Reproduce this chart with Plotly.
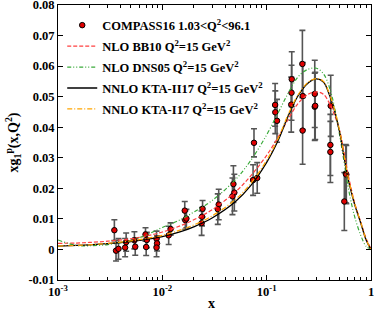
import plotly.graph_objects as go

# ---- data ----
data_x = [0.00347, 0.0036, 0.0038, 0.0044, 0.0045, 0.0054, 0.0055, 0.0069, 0.0070, 0.0071,
          0.0088, 0.0089, 0.0088, 0.0115, 0.0120, 0.0164, 0.0166, 0.0170,
          0.0243, 0.0240, 0.0238, 0.0347, 0.0340, 0.048, 0.049, 0.047,
          0.0741, 0.0812, 0.0756, 0.1205, 0.121, 0.1257, 0.174, 0.173, 0.172,
          0.220, 0.222, 0.221, 0.289, 0.289, 0.292, 0.411, 0.408, 0.408,
          0.573, 0.580, 0.555]
data_y = [0.0063, -0.0004, 0.0002, 0.0006, 0.0024, 0.0030, 0.0009, 0.0049, 0.0008, 0.0031,
          0.0035, 0.0020, 0.0006, 0.0046, 0.0067, 0.0127, 0.0096, 0.0101,
          0.0133, 0.0107, 0.0086, 0.0147, 0.0132, 0.0214, 0.0186, 0.0174,
          0.0227, 0.0234, 0.0349, 0.0473, 0.0449, 0.0421, 0.0557, 0.0513, 0.0474,
          0.0607, 0.0502, 0.0389, 0.0509, 0.0467, 0.0470, 0.0470, 0.0342, 0.0319,
          0.0248, 0.0245, 0.0157]
data_err = [0.0034, 0.0034, 0.0034, 0.0030, 0.0030, 0.0028, 0.0028, 0.0022, 0.0028, 0.0025,
            0.0025, 0.0025, 0.0030, 0.0030, 0.0020, 0.0030, 0.0030, 0.0030,
            0.0027, 0.0030, 0.0040, 0.0050, 0.0050, 0.0060, 0.0060, 0.0060,
            0.0050, 0.0050, 0.0046, 0.0070, 0.0070, 0.0070, 0.0090, 0.0090, 0.0090,
            0.0110, 0.0110, 0.0110, 0.0110, 0.0110, 0.0110, 0.0100, 0.0100, 0.0100,
            0.0095, 0.0095, 0.0095]

curve_x = [0.001, 0.0015, 0.002, 0.003, 0.005, 0.007, 0.01, 0.015, 0.02, 0.03, 0.05, 0.07,
           0.1, 0.13, 0.16, 0.2, 0.25, 0.3, 0.35, 0.4, 0.45, 0.5, 0.55, 0.6, 0.65, 0.7,
           0.8, 0.9, 1.0]
bb10 = [0.0020, 0.0021, 0.0023, 0.0027, 0.0035, 0.0044, 0.0057, 0.0078, 0.0097, 0.0130,
        0.0188, 0.0240, 0.0308, 0.0370, 0.0425, 0.0478, 0.0508, 0.0516, 0.0508, 0.0478,
        0.0437, 0.0390, 0.0320, 0.0250, 0.0195, 0.0150, 0.0088, 0.0035, 0.0002]
dns05 = [0.0031, 0.0013, 0.0012, 0.0016, 0.0030, 0.0047, 0.0072, 0.0098, 0.0122, 0.0160,
         0.0228, 0.0290, 0.0375, 0.0450, 0.0510, 0.0565, 0.0590, 0.0593, 0.0575, 0.0530,
         0.0460, 0.0375, 0.0290, 0.0210, 0.0150, 0.0105, 0.0045, 0.0010, 0.0002]
kta_ii17 = [0.0011, 0.0013, 0.0015, 0.0019, 0.0026, 0.0033, 0.0042, 0.0058, 0.0074, 0.0103,
            0.0156, 0.0208, 0.0285, 0.0360, 0.0435, 0.0503, 0.0545, 0.0558, 0.0548, 0.0505,
            0.0450, 0.0385, 0.0305, 0.0235, 0.0185, 0.0145, 0.0085, 0.0030, 0.0000]
kta_i17 = [0.0011, 0.0013, 0.0015, 0.0020, 0.0028, 0.0036, 0.0046, 0.0064, 0.0080, 0.0110,
           0.0163, 0.0215, 0.0292, 0.0366, 0.0440, 0.0506, 0.0547, 0.0559, 0.0550, 0.0508,
           0.0454, 0.0389, 0.0310, 0.0240, 0.0189, 0.0148, 0.0087, 0.0031, 0.0000]

x_tickvals = [0.001, 0.01, 0.1, 1]
x_ticktext = ["10<sup>-3</sup>", "10<sup>-2</sup>", "10<sup>-1</sup>", "1"]
y_tickvals = [-0.01, 0, 0.01, 0.02, 0.03, 0.04, 0.05, 0.06, 0.07, 0.08]
y_ticktext = ["-0.01", "0", "0.01", "0.02", "0.03", "0.04", "0.05", "0.06", "0.07", "0.08"]

FONT = "Liberation Serif"

fig = go.Figure()
fig.add_trace(go.Scatter(
    x=data_x, y=data_y, mode="markers", legendgroup="g0",
    name="COMPASS16 1.03&lt;Q<sup>2</sup>&lt;96.1",
    marker=dict(color="#e00000", size=5.5, line=dict(color="black", width=1)),
    error_y=dict(type="data", array=data_err, color="#555555", thickness=1.6, width=3),
))
fig.add_trace(go.Scatter(
    x=curve_x, y=bb10, mode="lines", legendgroup="g1",
    name="NLO BB10 Q<sup>2</sup>=15 GeV<sup>2</sup>",
    line=dict(color="#ff4040", width=1.2, dash="4px,2px", shape="spline"),
))
fig.add_trace(go.Scatter(
    x=curve_x, y=dns05, mode="lines", legendgroup="g2",
    name="NLO DNS05 Q<sup>2</sup>=15 GeV<sup>2</sup>",
    line=dict(color="#3aaa3a", width=1.2, dash="4px,2px,1px,2px,1px,2px", shape="spline"),
))
fig.add_trace(go.Scatter(
    x=curve_x, y=kta_ii17, mode="lines", legendgroup="g3",
    name="NNLO KTA-II17 Q<sup>2</sup>=15 GeV<sup>2</sup>",
    line=dict(color="black", width=1.3, shape="spline"),
))
fig.add_trace(go.Scatter(
    x=curve_x, y=kta_i17, mode="lines", legendgroup="g4",
    name="NNLO KTA-I17 Q<sup>2</sup>=15 GeV<sup>2</sup>",
    line=dict(color="#ffa500", width=1.2, dash="5px,2px,1px,2px", shape="spline"),
))

axis_common = dict(
    showline=True, linecolor="black", linewidth=1, mirror="allticks",
    ticks="inside", tickcolor="black", ticklen=5, showgrid=False, zeroline=False,
    ticklabeloverflow="allow", automargin=False,
    tickfont=dict(family=FONT, size=12.5, color="black", weight="bold"),
)

fig.update_xaxes(
    type="log", range=[-3, 0], tickvals=x_tickvals, ticktext=x_ticktext,
    minor=dict(ticks="inside", ticklen=3, tickcolor="black", dtick="D1", showgrid=False),
    **axis_common,
)
fig.update_yaxes(
    range=[-0.01, 0.08], tickvals=y_tickvals, ticktext=y_ticktext,
    title=dict(text="xg<sub>1</sub><sup>p</sup>(x,Q<sup>2</sup>)",
               font=dict(family=FONT, size=14, color="black", weight="bold"), standoff=6),
    **axis_common,
)

fig.add_annotation(
    text="x", xref="paper", yref="paper", x=0.492, y=-0.084,
    xanchor="center", yanchor="middle", showarrow=False,
    font=dict(family=FONT, size=14, color="black", weight="bold"),
)

fig.update_layout(
    width=374, height=311,
    margin=dict(l=58, r=3, t=5, b=31, autoexpand=False),
    paper_bgcolor="white", plot_bgcolor="white",
    font=dict(family=FONT, size=12.5, color="black", weight="bold"),
    showlegend=True,
    legend=dict(x=0.0135, y=0.98, xanchor="left", yanchor="top", bgcolor="rgba(0,0,0,0)",
                borderwidth=0, itemwidth=30, tracegroupgap=1.7, traceorder="grouped",
                font=dict(family=FONT, size=12.5, color="black", weight="bold")),
)

fig.write_html("out.html", config={"displayModeBar": False},
               post_script="document.body.style.margin='0';document.body.style.overflow='hidden';")
